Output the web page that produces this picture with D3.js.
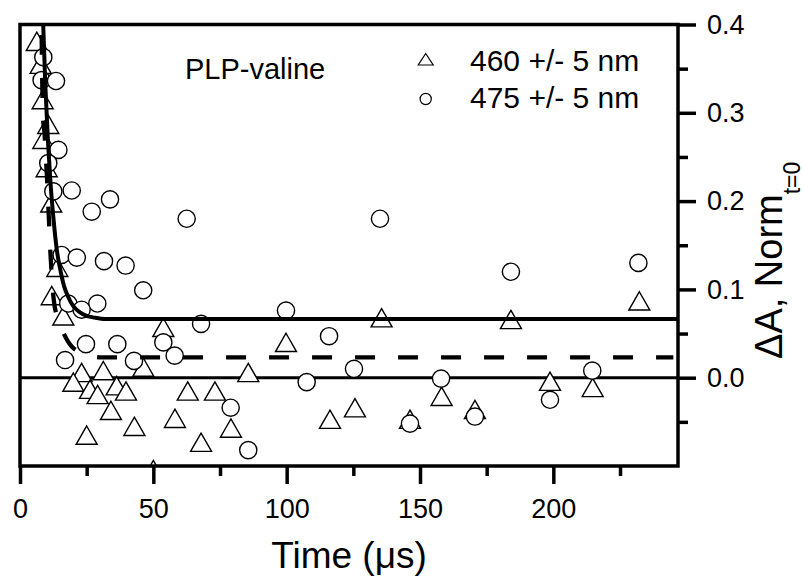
<!DOCTYPE html>
<html>
<head>
<meta charset="utf-8">
<script src="https://cdn.jsdelivr.net/npm/d3@7"></script>
<style>
  body { margin: 0; background: #fff; }
  text { font-family: "Liberation Sans", Arial, sans-serif; fill: #000; }
</style>
</head>
<body>
<div id="vis-container"></div>
<script>
// 460 nm (triangles)
var time460 = [6.3, 7.75, 8.5, 8.75, 10.6, 10.0, 11.7, 14.0, 11.9, 16.25, 53.75, 46.25, 31.25, 23.1,
               85.6, 20.0, 26.25, 36.25, 39.75, 29.1, 62.9, 73.1, 34.1, 58.1, 42.9, 79.1, 25.0, 67.9,
               50.0, 99.75, 135.6, 158.1, 125.6, 116.25, 146.25, 170.6, 184.1, 232.25, 198.75, 214.75];
var dA460   = [0.380, 0.354, 0.314, 0.269, 0.286, 0.237, 0.197, 0.124, 0.092, 0.069, 0.056, 0.011, 0.007, 0.005,
               0.005, -0.006, -0.014, -0.010, -0.016, -0.020, -0.016, -0.016, -0.038, -0.047, -0.056, -0.058, -0.066, -0.074,
               -0.105, 0.039, 0.067, -0.022, -0.035, -0.048, -0.048, -0.037, 0.065, 0.086, -0.005, -0.012];

// 475 nm (circles)
var time475 = [8.74, 8.1, 13.5, 14.4, 10.6, 12.5, 19.4, 33.75, 26.9, 62.5, 15.6, 21.3, 31.5, 39.6,
               46.2, 18.1, 29.0, 23.1, 67.9, 24.75, 36.5, 53.75, 16.9, 42.75, 58.0, 79.0, 85.6, 99.75,
               115.9, 135.0, 125.25, 107.5, 157.9, 146.25, 170.6, 184.1, 231.9, 198.75, 214.6];
var dA475   = [0.363, 0.337, 0.336, 0.258, 0.243, 0.211, 0.212, 0.202, 0.188, 0.180, 0.139, 0.136, 0.132, 0.127,
               0.099, 0.084, 0.084, 0.077, 0.061, 0.038, 0.038, 0.040, 0.020, 0.019, 0.025, -0.034, -0.082, 0.076,
               0.047, 0.180, 0.010, -0.005, -0.001, -0.052, -0.044, 0.120, 0.130, -0.025, 0.008];

// fit curves
var fitSolidT = [8.7, 9.5, 10.5, 11.5, 12.5, 13.75, 15, 16.5, 18, 20, 22.5, 25, 28, 32, 246.75];
var fitSolidA = [0.40, 0.331, 0.267, 0.218, 0.182, 0.146, 0.124, 0.104, 0.092, 0.081, 0.074, 0.070, 0.068, 0.0665, 0.0664];
var fitDashT  = [8.06, 8.62, 9.19, 9.75, 10.12, 10.5, 10.87, 11.25, 11.62, 12.19, 12.75, 13.9, 16.1, 19.5, 24.4, 30, 245];
var fitDashA  = [0.40, 0.295, 0.277, 0.246, 0.227, 0.201, 0.178, 0.150, 0.130, 0.103, 0.086, 0.069, 0.052, 0.035, 0.027, 0.023, 0.023];

var xTicks = [0, 50, 100, 150, 200];
var xMinor = [25, 75, 125, 175, 225];
var yTicks = [0, 0.1, 0.2, 0.3, 0.4];
var yMinor = [-0.05, 0.05, 0.15, 0.25, 0.35];
var legendLabels = ["460 +/- 5 nm", "475 +/- 5 nm"];

var W = 804, H = 579;
var pLeft = 20, pRight = 678, pTop = 24.5, pBottom = 466;

var x = d3.scaleLinear().domain([0, 246.75]).range([pLeft, pRight]);
var y = d3.scaleLinear().domain([-0.1, 0.4]).range([pBottom, pTop]);

var svg = d3.select("#vis-container").append("svg")
    .attr("width", W).attr("height", H);

svg.append("clipPath").attr("id", "plotclip")
  .append("rect")
    .attr("x", pLeft).attr("y", pTop)
    .attr("width", pRight - pLeft).attr("height", pBottom - pTop);

var plot = svg.append("g").attr("clip-path", "url(#plotclip)");

// zero line
plot.append("line")
    .attr("x1", pLeft).attr("x2", pRight)
    .attr("y1", y(0)).attr("y2", y(0))
    .attr("stroke", "#000").attr("stroke-width", 3);

var triPath = "M0,-10L10.5,8.3L-10.5,8.3Z";

plot.selectAll(".tri")
    .data(d3.range(time460.length))
    .enter().append("path")
      .attr("class", "tri")
      .attr("d", triPath)
      .attr("transform", function(i) { return "translate(" + x(time460[i]) + "," + y(dA460[i]) + ")"; })
      .attr("fill", "#fff").attr("stroke", "#000").attr("stroke-width", 1.4);

plot.selectAll(".circ")
    .data(d3.range(time475.length))
    .enter().append("circle")
      .attr("class", "circ")
      .attr("cx", function(i) { return x(time475[i]); })
      .attr("cy", function(i) { return y(dA475[i]); })
      .attr("r", 8.6)
      .attr("fill", "#fff").attr("stroke", "#000").attr("stroke-width", 1.4);

var line = d3.line()
    .x(function(d) { return x(d[0]); })
    .y(function(d) { return y(d[1]); })
    .curve(d3.curveMonotoneX);

plot.append("path")
    .attr("d", line(d3.zip(fitSolidT, fitSolidA)))
    .attr("fill", "none").attr("stroke", "#000").attr("stroke-width", 4);

var dashed = plot.append("path")
    .attr("d", line(d3.zip(fitDashT, fitDashA)))
    .attr("fill", "none").attr("stroke", "#000").attr("stroke-width", 4.3)
    .attr("stroke-dasharray", "20,23");

// line the dash pattern up so a dash starts near x = 97px, like the original
(function() {
  var node = dashed.node(), total = node.getTotalLength();
  var lo = 0, hi = total;
  for (var k = 0; k < 40; k++) {
    var mid = (lo + hi) / 2;
    if (node.getPointAtLength(mid).x < 97) lo = mid; else hi = mid;
  }
  dashed.attr("stroke-dashoffset", 43 - (lo % 43));
})();

// frame
svg.append("rect")
    .attr("x", pLeft).attr("y", pTop)
    .attr("width", pRight - pLeft).attr("height", pBottom - pTop)
    .attr("fill", "none").attr("stroke", "#000").attr("stroke-width", 3.5);

// axes
var xAxis = d3.axisBottom(x).tickValues(xTicks).tickSize(18).tickPadding(14.5).tickFormat(d3.format("d"));
var xAxisMinor = d3.axisBottom(x).tickValues(xMinor).tickSize(10).tickFormat("");
var yAxis = d3.axisRight(y).tickValues(yTicks).tickSize(18).tickPadding(11).tickFormat(d3.format(".1f"));
var yAxisMinor = d3.axisRight(y).tickValues(yMinor).tickSize(10).tickFormat("");

function styleAxis(g) {
  g.select(".domain").remove();
  g.selectAll("line").attr("stroke", "#000").attr("stroke-width", 3.5);
  g.selectAll("text").attr("font-size", 27).attr("fill", "#000")
    .style("font-family", "'Liberation Sans', Arial, sans-serif");
}

svg.append("g").attr("transform", "translate(0," + pBottom + ")").call(xAxis).call(styleAxis);
svg.append("g").attr("transform", "translate(0," + pBottom + ")").call(xAxisMinor).call(styleAxis);
svg.append("g").attr("transform", "translate(" + pRight + ",0)").call(yAxis).call(styleAxis);
svg.append("g").attr("transform", "translate(" + pRight + ",0)").call(yAxisMinor).call(styleAxis);

// axis titles
svg.append("text")
    .attr("x", (pLeft + pRight) / 2).attr("y", 568)
    .attr("text-anchor", "middle").attr("font-size", 37)
    .text("Time (\u03bcs)");

var yt = svg.append("text")
    .attr("transform", "translate(782,359) rotate(-90)")
    .attr("font-size", 38);
yt.append("tspan").text("\u0394A, Norm");
yt.append("tspan").attr("dy", 18).attr("font-size", 23).text("t=0");

// annotation + legend
svg.append("text")
    .attr("x", 185).attr("y", 79)
    .attr("font-size", 29)
    .text("PLP-valine");

var legend = svg.append("g");
legend.append("path")
    .attr("d", "M0,-6.5L7.5,5L-7.5,5Z")
    .attr("transform", "translate(425.7,60)")
    .attr("fill", "#fff").attr("stroke", "#000").attr("stroke-width", 1.2);
legend.append("circle")
    .attr("cx", 425.7).attr("cy", 99).attr("r", 5.6)
    .attr("fill", "#fff").attr("stroke", "#000").attr("stroke-width", 1.2);
legend.selectAll(".lbl")
    .data(legendLabels)
    .enter().append("text")
      .attr("class", "lbl")
      .attr("x", 470)
      .attr("y", function(d, i) { return 71 + i * 37; })
      .attr("font-size", 30)
      .text(function(d) { return d; });
</script>
</body>
</html>
